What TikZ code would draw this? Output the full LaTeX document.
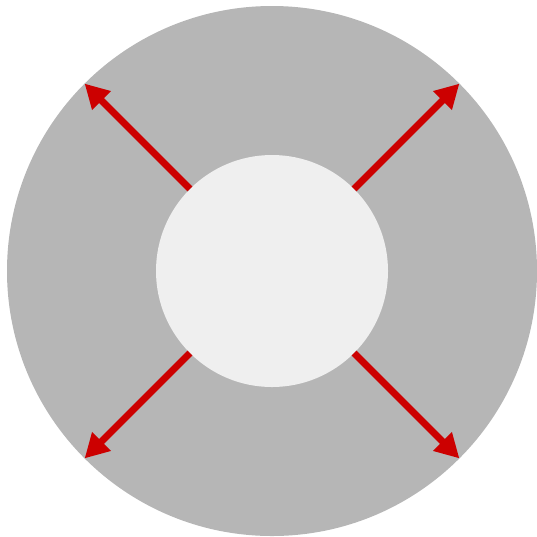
\documentclass[tikz,border=0pt]{standalone}
\usetikzlibrary{arrows.meta}
\definecolor{ringgray}{HTML}{B6B6B6}
\definecolor{coregray}{HTML}{EFEFEF}
\definecolor{arrowred}{HTML}{CC0000}
\begin{document}
\begin{tikzpicture}[x=1pt,y=-1pt,
  disc/.style={circle,inner sep=0pt,outer sep=0pt,draw=none},
  push/.style={draw=arrowred,line width=7pt,-{Triangle[length=24pt,width=25pt]}}]
\useasboundingbox (0,0) rectangle (537,536);
\node[disc,fill=ringgray,minimum size=530pt] (outer) at (272,271) {};
\node[disc,fill=coregray,minimum size=232pt] (inner) at (272,271) {};
\draw[push] (inner.north west) -- (outer.north west);
\draw[push] (inner.north east) -- (outer.north east);
\draw[push] (inner.south west) -- (outer.south west);
\draw[push] (inner.south east) -- (outer.south east);
\end{tikzpicture}
\end{document}
